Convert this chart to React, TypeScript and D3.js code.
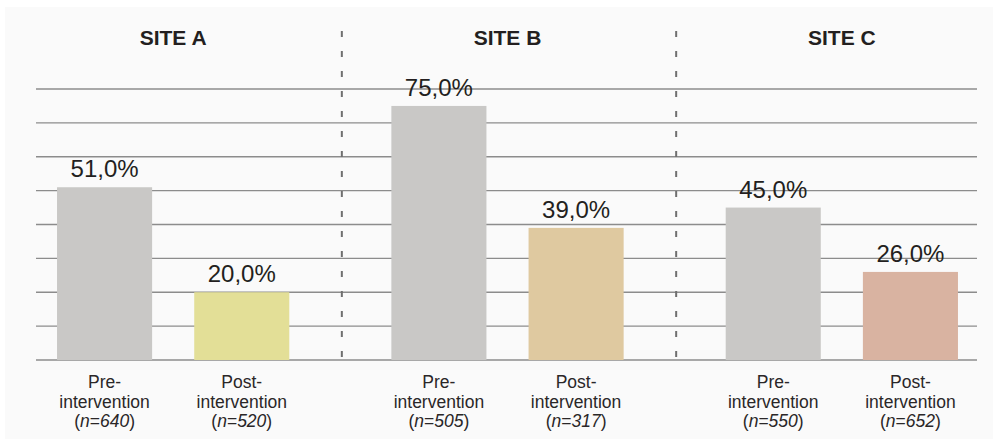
import React from "react";
import * as d3 from "d3";

const sites = ["SITE A", "SITE B", "SITE C"];
const phases = ["Pre-intervention", "Post-intervention"];
const preValues = [51.0, 75.0, 45.0];
const postValues = [20.0, 39.0, 26.0];
const preN = [640, 505, 550];
const postN = [520, 317, 652];
const postColors = ["#e3df97", "#dfc9a0", "#d9b3a1"];
const preColor = "#c9c8c6";
const yTicks = [0, 10, 20, 30, 40, 50, 60, 70, 80];

const W = 993;
const H = 439;

export default function App() {
  const x = d3.scaleBand<string>().domain(sites).range([6, 1009]).padding(0);
  const inner = d3
    .scaleBand<string>()
    .domain(phases)
    .range([0, x.bandwidth()])
    .paddingInner(0.307)
    .paddingOuter(0.372);
  const y = d3.scaleLinear().domain([0, 80]).range([360, 89]);

  const fmt = (v: number) => v.toFixed(1).replace(".", ",") + "%";
  const font = "'Liberation Sans', Arial, Helvetica, sans-serif";
  const textColor = "#231f20";

  const bars = sites.flatMap((s, i) => [
    { site: s, phase: phases[0], value: preValues[i], n: preN[i], color: preColor, label: "Pre-" },
    { site: s, phase: phases[1], value: postValues[i], n: postN[i], color: postColors[i], label: "Post-" },
  ]);

  return (
    <svg
      width={W}
      height={H}
      style={{ position: "absolute", left: 0, top: 0, background: "#ffffff" }}
      fontFamily={font}
    >
      <rect x={5} y={7} width={W - 5} height={H - 7} fill="#fafafa" />
      {yTicks.map((t) => (
        <line
          key={t}
          x1={36}
          x2={977}
          y1={y(t)}
          y2={y(t)}
          stroke="#8c8c8c"
          strokeWidth={1.4}
        />
      ))}
      {sites.slice(1).map((s) => (
        <line
          key={s}
          x1={x(s)! + 1.5}
          x2={x(s)! + 1.5}
          y1={31}
          y2={362}
          stroke="#6f6f6f"
          strokeWidth={2}
          strokeDasharray="6 14"
        />
      ))}
      {sites.map((s) => (
        <text
          key={s}
          x={x(s)! + x.bandwidth() / 2}
          y={45}
          textAnchor="middle"
          fontSize={21}
          fontWeight="bold"
          fill={textColor}
        >
          {s}
        </text>
      ))}
      {bars.map((b) => {
        const bx = x(b.site)! + inner(b.phase)!;
        const cx = bx + inner.bandwidth() / 2;
        return (
          <g key={b.site + b.phase}>
            <rect
              x={bx}
              y={y(b.value)}
              width={inner.bandwidth()}
              height={y(0) - y(b.value)}
              fill={b.color}
            />
            <text
              x={cx}
              y={y(b.value) - 10}
              textAnchor="middle"
              fontSize={24}
              fill={textColor}
            >
              {fmt(b.value)}
            </text>
            <text textAnchor="middle" fontSize={17.5} fill="#2a2728">
              <tspan x={cx} y={388}>
                {b.label}
              </tspan>
              <tspan x={cx} y={407.5}>
                intervention
              </tspan>
              <tspan x={cx} y={427}>
                (<tspan fontStyle="italic">n</tspan>=<tspan fontStyle="italic">{b.n}</tspan>)
              </tspan>
            </text>
          </g>
        );
      })}
    </svg>
  );
}
